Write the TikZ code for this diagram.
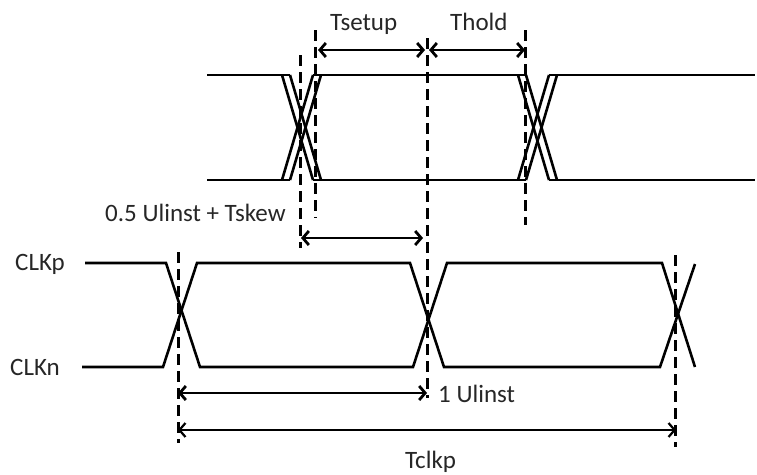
\documentclass[tikz,border=0pt]{standalone}
\usepackage{fontspec}
\setmainfont{Carlito}
\usetikzlibrary{arrows.meta}
\tikzset{
  sig/.style={line width=2.6pt, line join=miter},
  dline/.style={line width=3pt, dash pattern=on 11pt off 6pt},
  dim/.style={line width=2.8pt, {Straight Barb[length=6pt,width=14pt]}-{Straight Barb[length=6pt,width=14pt]}},
  dimthin/.style={line width=2.2pt, {Straight Barb[length=6pt,width=14pt]}-{Straight Barb[length=6pt,width=14pt]}},
  lbl/.style={font=\fontsize{25}{30}\selectfont, inner sep=0pt, anchor=base west, text=black!85}
}
\begin{document}
\begin{tikzpicture}[x=1pt,y=-1pt]
\useasboundingbox (0,0) rectangle (757,474);
% ---- data eye coordinates
\coordinate (dTL0) at (207,75);  \coordinate (dBL0) at (207,180);
\coordinate (a1) at (282,75); \coordinate (a2) at (290,75);
\coordinate (b1) at (313,180); \coordinate (b2) at (321,180);
\coordinate (c1) at (282,180); \coordinate (c2) at (290,180);
\coordinate (e1) at (313,75); \coordinate (e2) at (321,75);
\coordinate (f1) at (518,75); \coordinate (f2) at (526,75);
\coordinate (g1) at (549,180); \coordinate (g2) at (557,180);
\coordinate (h1) at (518,180); \coordinate (h2) at (526,180);
\coordinate (k1) at (549,75); \coordinate (k2) at (557,75);
\coordinate (dTR) at (755,75); \coordinate (dBR) at (755,180);
% horizontals
\draw[sig] (dTL0) -- (a2);
\draw[sig] (dBL0) -- (c2);
\draw[sig] (e1) -- (f2);
\draw[sig] (b1) -- (h2);
\draw[sig] (k1) -- (dTR);
\draw[sig] (g1) -- (dBR);
% left X (double lines)
\draw[sig] (a1) -- (b1); \draw[sig] (a2) -- (b2);
\draw[sig] (c1) -- (e1); \draw[sig] (c2) -- (e2);
% right X
\draw[sig] (f1) -- (g1); \draw[sig] (f2) -- (g2);
\draw[sig] (h1) -- (k1); \draw[sig] (h2) -- (k2);
% ---- clock
\coordinate (pL) at (85,263); \coordinate (nL) at (82,367);
\coordinate (p1) at (166,263); \coordinate (p2) at (200,367);
\coordinate (n1) at (163,367); \coordinate (n2) at (197,263);
\coordinate (p3) at (410,263); \coordinate (p4) at (444,367);
\coordinate (n3) at (413,367); \coordinate (n4) at (447,263);
\coordinate (p5) at (662,263); \coordinate (p6) at (695,367);
\coordinate (n5) at (660,367); \coordinate (n6) at (695,264);
\draw[sig] (pL) -- (p1) -- (p2) -- (n3) -- (n4) -- (p5) -- (p6);
\draw[sig] (nL) -- (n1) -- (n2) -- (p3) -- (p4) -- (n5) -- (n6);
% ---- dashed verticals
\coordinate (v1t) at (300,55);  \coordinate (v1b) at (300,248);
\coordinate (v2t) at (315,30);  \coordinate (v2b) at (315,218);
\coordinate (v3t) at (427,38);  \coordinate (v3b) at (427,398);
\coordinate (v4t) at (525,30);  \coordinate (v4b) at (525,225);
\coordinate (v5t) at (178,252); \coordinate (v5b) at (178,443);
\coordinate (v6t) at (675,255); \coordinate (v6b) at (675,447);
\draw[dline] (v1t) -- (v1b);
\draw[dline] (v2t) -- (v2b);
\draw[dline] (v3t) -- (v3b);
\draw[dline] (v4t) -- (v4b);
\draw[dline] (v5t) -- (v5b);
\draw[dline] (v6t) -- (v6b);
% ---- dimension arrows
\coordinate (ts1) at (318,50); \coordinate (ts2) at (425,50);
\coordinate (th1) at (429,50); \coordinate (th2) at (525,50);
\coordinate (sk1) at (301,238); \coordinate (sk2) at (423,238);
\coordinate (u1) at (178,393); \coordinate (u2) at (427,393);
\coordinate (c1a) at (178,430); \coordinate (c2a) at (676,430);
\draw[dim] (ts1) -- (ts2);
\draw[dim] (th1) -- (th2);
\draw[dim] (sk1) -- (sk2);
\draw[dim] (u1) -- (u2);
\draw[dimthin] (c1a) -- (c2a);
% ---- labels
\node[lbl] (tsetup) at (330,30) {Tsetup};
\node[lbl] (thold) at (450,30) {Thold};
\node[lbl] (tskew) at (105,221) {0.5 Ulinst + Tskew};
\node[lbl] (clkp) at (15,270) {CLKp};
\node[lbl] (clkn) at (10,375) {CLKn};
\node[lbl] (uli) at (438,402) {1 Ulinst};
\node[lbl] (tclkp) at (405,468) {Tclkp};
\end{tikzpicture}
\end{document}
